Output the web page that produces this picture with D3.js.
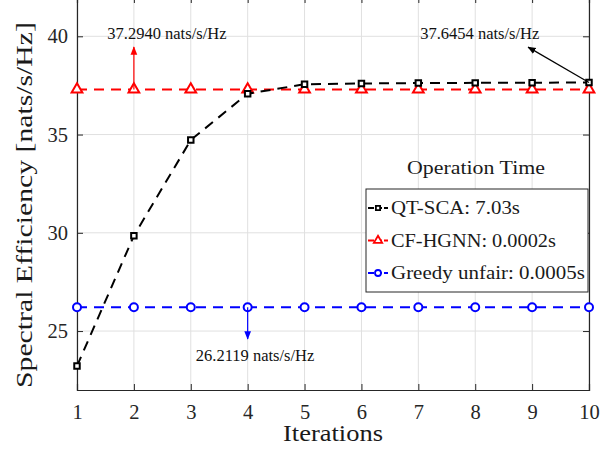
<!DOCTYPE html>
<html>
<head>
<meta charset="utf-8">
<script src="https://cdn.jsdelivr.net/npm/d3@7"></script>
<style>
  body { margin: 0; background: #fff; }
  svg text { font-family: "Liberation Serif", "Times New Roman", serif; }
</style>
</head>
<body>
<div id="chart"></div>
<script>
// data
const iterations = [1, 2, 3, 4, 5, 6, 7, 8, 9, 10];
const qtSca = [23.22, 29.85, 34.72, 37.08, 37.56, 37.60, 37.62, 37.63, 37.64, 37.6454];
const cfHgnn = [37.294, 37.294, 37.294, 37.294, 37.294, 37.294, 37.294, 37.294, 37.294, 37.294];
const greedy = [26.2119, 26.2119, 26.2119, 26.2119, 26.2119, 26.2119, 26.2119, 26.2119, 26.2119, 26.2119];
const yTicks = [25, 30, 35, 40];
const legendLabels = ["QT-SCA: 7.03s", "CF-HGNN: 0.0002s", "Greedy unfair: 0.0005s"];

const W = 600, H = 450;
const margin = { top: -3, right: 11, bottom: 60, left: 77 };
const width = W - margin.left - margin.right,
  height = H - margin.top - margin.bottom;
const serif = "'Liberation Serif', 'Times New Roman', serif";

const svg = d3.select("#chart").append("svg")
  .attr("width", W).attr("height", H);
const g = svg.append("g")
  .attr("transform", "translate(" + margin.left + "," + margin.top + ")");

const x = d3.scaleLinear().domain([1, 10]).range([0, width]);
const y = d3.scaleLinear().domain([22, 42]).range([height, 0]);

// grid
g.append("g").selectAll("line").data(iterations).enter().append("line")
  .attr("x1", d => x(d)).attr("x2", d => x(d))
  .attr("y1", 0).attr("y2", height)
  .attr("stroke", "#e0e0e0").attr("stroke-width", 1);
g.append("g").selectAll("line").data(yTicks).enter().append("line")
  .attr("x1", 0).attr("x2", width)
  .attr("y1", d => y(d)).attr("y2", d => y(d))
  .attr("stroke", "#e0e0e0").attr("stroke-width", 1);

// axes
g.append("g").attr("transform", "translate(0," + height + ")")
  .call(d3.axisBottom(x).tickValues(iterations).tickSize(-6).tickPadding(14).tickFormat(d3.format("d")));
g.append("g")
  .call(d3.axisLeft(y).tickValues(yTicks).tickSize(-6).tickPadding(9));
g.append("g").attr("transform", "translate(" + width + ",0)")
  .call(d3.axisRight(y).tickValues(yTicks).tickSize(-6).tickFormat(""));
g.append("g")
  .call(d3.axisTop(x).tickValues(iterations).tickSize(-6).tickFormat(""));
g.selectAll(".domain").attr("stroke", "#262626").attr("stroke-width", 1.2);
g.selectAll(".tick line").attr("stroke", "#262626");
g.selectAll(".tick text").style("font-size", "20.5px").attr("fill", "#262626")
  .style("font-family", serif);

// series
const series = [
  { vals: qtSca, color: "#000000", marker: "square" },
  { vals: cfHgnn, color: "#ff0000", marker: "triangle" },
  { vals: greedy, color: "#0000ff", marker: "circle" }
];
const line = d3.line().x((d, i) => x(iterations[i])).y(d => y(d));

function drawMarker(sel, type, color) {
  if (type === "square") {
    sel.append("path").attr("d", d3.symbol().type(d3.symbolSquare).size(30))
      .attr("fill", "#fff").attr("stroke", color).attr("stroke-width", 2);
  } else if (type === "triangle") {
    sel.append("path").attr("d", d3.symbol().type(d3.symbolTriangle).size(50))
      .attr("fill", "#fff").attr("stroke", color).attr("stroke-width", 2);
  } else {
    sel.append("circle").attr("r", 4)
      .attr("fill", "#fff").attr("stroke", color).attr("stroke-width", 2);
  }
}

// draw in reverse so black is on top
series.slice().reverse().forEach(s => {
  g.append("path").datum(s.vals)
    .attr("d", line).attr("fill", "none")
    .attr("stroke", s.color).attr("stroke-width", 2)
    .attr("stroke-dasharray", "10,7");
  g.append("g").selectAll("g").data(s.vals).enter().append("g")
    .attr("transform", (d, i) => "translate(" + x(iterations[i]) + "," + y(d) + ")")
    .each(function () { drawMarker(d3.select(this), s.marker, s.color); });
});

// annotations
const defs = svg.append("defs");
[["arrRed", "#ff0000"], ["arrBlack", "#000"], ["arrBlue", "#0000ff"]].forEach(a => {
  defs.append("marker").attr("id", a[0]).attr("viewBox", "0 0 10 10")
    .attr("refX", 9).attr("refY", 5).attr("markerWidth", 7).attr("markerHeight", 7)
    .attr("orient", "auto")
    .append("path").attr("d", "M0,1 L10,5 L0,9 Z").attr("fill", a[1]);
});

function annot(x1, y1, x2, y2, color, id, label, tx, ty) {
  g.append("line").attr("x1", x1).attr("y1", y1).attr("x2", x2).attr("y2", y2)
    .attr("stroke", color).attr("stroke-width", 1.2)
    .attr("marker-end", "url(#" + id + ")");
  g.append("text").attr("x", tx).attr("y", ty).attr("text-anchor", "middle")
    .style("font-family", serif).style("font-size", "16.5px")
    .attr("fill", "#111").text(label);
}
annot(x(2), y(cfHgnn[1]), x(2), y(39.45), "#ff0000", "arrRed",
  "37.2940 nats/s/Hz", x(2.58), y(39.85));
annot(x(10), y(qtSca[9]), x(8.93), y(39.45), "#000", "arrBlack",
  "37.6454 nats/s/Hz", x(8.08), y(39.85));
annot(x(4), y(greedy[3]), x(4), y(24.6), "#0000ff", "arrBlue",
  "26.2119 nats/s/Hz", x(4.13), y(23.5));

// widen serif text horizontally to the widths seen in the picture (LaTeX font is wider)
function stretched(parent, pre, size, len, label) {
  const t = parent.append("text").style("font-family", serif)
    .style("font-size", size + "px").attr("fill", "#1a1a1a").text(label);
  const w = t.node().getComputedTextLength();
  t.attr("transform", pre + " scale(" + (len / w) + ",1)");
  return t;
}

// legend
const lx = 366 - margin.left, ly = 189 - margin.top, lw = 222, lh = 103;
const legendWidths = [129, 165, 194];
stretched(g, "translate(" + (lx + 41) + "," + (ly - 15) + ")", 19.5, 138, "Operation Time");
g.append("rect").attr("x", lx).attr("y", ly).attr("width", lw).attr("height", lh)
  .attr("fill", "#fff").attr("stroke", "#262626").attr("stroke-width", 1);
series.forEach((s, i) => {
  const cy = ly + 19 + i * 32.5;
  g.append("line").attr("x1", lx + 2).attr("x2", lx + 22).attr("y1", cy).attr("y2", cy)
    .attr("stroke", s.color).attr("stroke-width", 2).attr("stroke-dasharray", "6,2");
  const m = g.append("g").attr("transform", "translate(" + (lx + 12) + "," + cy + ")");
  if (s.marker === "square") {
    m.append("path").attr("d", d3.symbol().type(d3.symbolSquare).size(18))
      .attr("fill", "#fff").attr("stroke", s.color).attr("stroke-width", 1.8);
  } else if (s.marker === "triangle") {
    m.append("path").attr("d", d3.symbol().type(d3.symbolTriangle).size(30))
      .attr("fill", "#fff").attr("stroke", s.color).attr("stroke-width", 1.8);
  } else {
    m.append("circle").attr("r", 3)
      .attr("fill", "#fff").attr("stroke", s.color).attr("stroke-width", 1.8);
  }
  stretched(g, "translate(" + (lx + 25) + "," + (cy + 6) + ")", 18.5, legendWidths[i], legendLabels[i]);
});

// axis labels
stretched(svg, "translate(283,441)", 22.5, 100, "Iterations");
stretched(svg, "translate(32,388) rotate(-90)", 22.5, 366, "Spectral Efficiency [nats/s/Hz]");
</script>
</body>
</html>
